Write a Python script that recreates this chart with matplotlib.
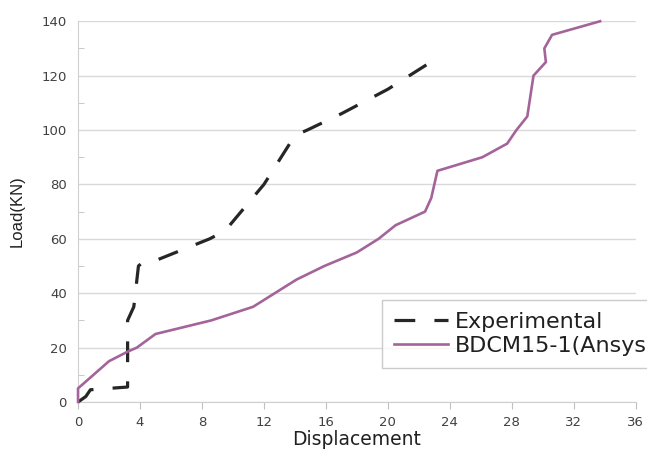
import matplotlib.pyplot as plt
from matplotlib.ticker import MultipleLocator

# Experimental load-displacement curve
exp_disp = [0, 0.5, 0.8, 3.2, 3.2, 3.6, 3.9, 4.2, 5.0, 8.5, 9.5, 12.0, 14.0, 14.8, 17.0, 20.0, 22.5]
exp_load = [0, 2, 4.5, 5.5, 30, 35, 50, 51.5, 52, 60, 63, 80, 98, 100, 106, 115, 124]

# BDCM15-1 (Ansys) curve
fe_disp = [0, 0, 2.0, 3.2, 3.8, 5.0, 8.6, 11.3, 14.1, 15.9, 18.0, 19.4, 20.5, 22.4,
           22.8, 23.2, 26.1, 27.7, 28.3, 29.0, 29.4, 30.2, 30.1, 30.6, 33.7]
fe_load = [0, 5, 15, 18.5, 20, 25, 30, 35, 45, 50, 55, 60, 65, 70,
           75, 85, 90, 95, 100, 105, 120, 125, 130, 135, 140]

fig = plt.figure(figsize=(6.47, 4.49), dpi=100)
ax = fig.add_axes([0.1206, 0.1047, 0.862, 0.848])

ax.plot(exp_disp, exp_load, color='#262626', lw=2.3, ls=(0, (6.5, 6)),
        label='Experimental', clip_on=False, zorder=3)
ax.plot(fe_disp, fe_load, color='#a4649a', lw=1.9, label='BDCM15-1(Ansys',
        clip_on=False, zorder=3)

ax.set_xlim(0, 36)
ax.set_ylim(0, 140)
ax.xaxis.set_major_locator(MultipleLocator(4))
ax.yaxis.set_major_locator(MultipleLocator(20))
ax.yaxis.set_minor_locator(MultipleLocator(10))
ax.grid(axis='y', color='#d9d9d9', lw=1)
ax.set_axisbelow(True)

for s in ['top', 'right']:
    ax.spines[s].set_visible(False)
for s in ['left', 'bottom']:
    ax.spines[s].set_color('#d0d0d0')

ax.tick_params(axis='x', direction='out', length=5, color='#c0c0c0',
               labelsize=9.5, labelcolor='#404040', pad=5)
ax.tick_params(axis='y', which='major', length=0, labelsize=9.5,
               labelcolor='#404040', pad=8)
ax.tick_params(axis='y', which='minor', direction='in', length=4, color='#c0c0c0')

ax.set_xlabel('Displacement', fontsize=13.5, color='#202020', labelpad=1)
ax.set_ylabel('Load(KN)', fontsize=12, family='Liberation Sans', color='#202020',
              labelpad=12)

leg = ax.legend(loc='upper left', bbox_to_anchor=(382 / 647, 1 - 300 / 449),
                bbox_transform=fig.transFigure, fontsize=16, frameon=True,
                fancybox=False, edgecolor='#bfbfbf', handlelength=2.4,
                borderpad=0.55, labelspacing=0.15, handletextpad=0.35,
                borderaxespad=0)
for t in leg.get_texts():
    t.set_color('#202020')

fig.savefig('out.png', dpi=100)
